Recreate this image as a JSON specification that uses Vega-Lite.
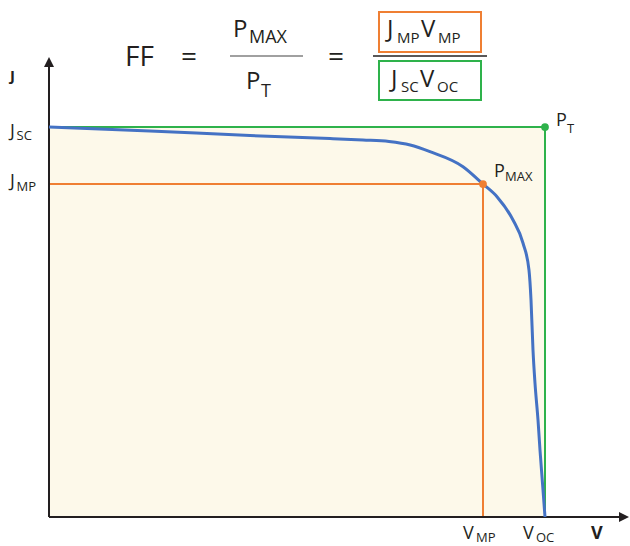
{
  "$schema": "https://vega.github.io/schema/vega-lite/v6.json",
  "width": 630,
  "height": 546,
  "autosize": "none",
  "padding": 0,
  "background": "white",
  "view": {"stroke": null},
  "config": {"text": {"font": "Open Sans", "color": "#231f20", "align": "left", "baseline": "alphabetic"}},
  "datasets": {
    "curve": [
      {"V": 0, "J": 1.0},
      {"V": 0.2036, "J": 0.9897},
      {"V": 0.4052, "J": 0.9782},
      {"V": 0.5665, "J": 0.9705},
      {"V": 0.6331, "J": 0.9667},
      {"V": 0.6855, "J": 0.9628},
      {"V": 0.7282, "J": 0.9538},
      {"V": 0.7681, "J": 0.9367},
      {"V": 0.8347, "J": 0.8982},
      {"V": 0.875, "J": 0.8538},
      {"V": 0.9032, "J": 0.8213},
      {"V": 0.9355, "J": 0.7615},
      {"V": 0.9556, "J": 0.7026},
      {"V": 0.9677, "J": 0.6333},
      {"V": 0.9718, "J": 0.5564},
      {"V": 0.9758, "J": 0.4282},
      {"V": 0.9798, "J": 0.3436},
      {"V": 0.9859, "J": 0.2487},
      {"V": 0.9899, "J": 0.1718},
      {"V": 0.996, "J": 0.0692},
      {"V": 1.0, "J": 0}
    ],
    "frame": [{"V": 0, "J": 0, "V2": 1, "J2": 1}],
    "green": [
      {"V": 0, "J": 1, "V2": 1, "J2": 1},
      {"V": 1, "J": 1, "V2": 1, "J2": 0}
    ],
    "orange": [
      {"V": 0, "J": 0.8538, "V2": 0.875, "J2": 0.8538},
      {"V": 0.875, "J": 0.8538, "V2": 0.875, "J2": 0}
    ],
    "points": [
      {"name": "PT", "V": 1, "J": 1},
      {"name": "PMAX", "V": 0.875, "J": 0.8538}
    ],
    "axes": [
      {"V": 0, "J": 0, "V2": 0, "J2": 1.1538},
      {"V": 0, "J": 0, "V2": 1.1532, "J2": 0}
    ],
    "arrowUp": [{"V": 0, "J": 1.16667}],
    "arrowRight": [{"V": 1.15927, "J": 0}],
    "boxes": [
      {"box": "num", "V": 0.66532, "V2": 0.87097, "J": 1.19231, "J2": 1.29487},
      {"box": "den", "V": 0.66532, "V2": 0.87097, "J": 1.06923, "J2": 1.16923}
    ],
    "fracGray": [{"V": 0.36492, "V2": 0.5121, "J": 1.18205, "J2": 1.18205}],
    "fracBlack": [{"V": 0.65323, "V2": 0.88306, "J": 1.18205, "J2": 1.18205}],
    "texts": [
      {"g": "ff", "t": "FF", "V": 0.15323, "J": 1.15513},
      {"g": "ff", "t": "=", "V": 0.26613, "J": 1.15513},
      {"g": "ff", "t": "=", "V": 0.5625, "J": 1.15513},
      {"g": "main", "t": "P", "V": 0.37097, "J": 1.23154},
      {"g": "main", "t": "P", "V": 0.39718, "J": 1.09744},
      {"g": "main", "t": "J", "V": 0.68145, "J": 1.23077},
      {"g": "main", "t": "V", "V": 0.75, "J": 1.23077},
      {"g": "main", "t": "J", "V": 0.68952, "J": 1.10256},
      {"g": "main", "t": "V", "V": 0.74798, "J": 1.10256},
      {"g": "sub", "t": "MAX", "V": 0.40323, "J": 1.21538},
      {"g": "sub", "t": "T", "V": 0.42742, "J": 1.07692},
      {"g": "boxsub", "t": "MP", "V": 0.70161, "J": 1.21538},
      {"g": "boxsub", "t": "MP", "V": 0.78427, "J": 1.21538},
      {"g": "boxsub", "t": "SC", "V": 0.70968, "J": 1.08974},
      {"g": "boxsub", "t": "OC", "V": 0.78226, "J": 1.08974},
      {"g": "lab", "t": "J", "V": -0.07863, "J": 0.97436},
      {"g": "lab", "t": "J", "V": -0.07863, "J": 0.84615},
      {"g": "lab", "t": "P", "V": 1.02218, "J": 1.00256},
      {"g": "lab", "t": "P", "V": 0.89718, "J": 0.87179},
      {"g": "lab", "t": "V", "V": 0.83468, "J": -0.05641},
      {"g": "lab", "t": "V", "V": 0.95565, "J": -0.05641},
      {"g": "labsub", "t": "SC", "V": -0.06552, "J": 0.96667},
      {"g": "labsub", "t": "MP", "V": -0.06552, "J": 0.8359},
      {"g": "labsub", "t": "T", "V": 1.04435, "J": 0.98462},
      {"g": "labsub", "t": "MAX", "V": 0.91935, "J": 0.86154},
      {"g": "labsub", "t": "MP", "V": 0.86089, "J": -0.0641},
      {"g": "labsub", "t": "OC", "V": 0.98185, "J": -0.0641},
      {"g": "axisJ", "t": "J", "V": -0.07863, "J": 1.11872},
      {"g": "axisV", "t": "V", "V": 1.09274, "J": -0.05641}
    ]
  },
  "encoding": {
    "x": {"field": "V", "type": "quantitative", "scale": {"domain": [-0.09879, 1.17137], "nice": false, "zero": false}, "axis": null},
    "y": {"field": "J", "type": "quantitative", "scale": {"domain": [-0.074359, 1.325641], "nice": false, "zero": false}, "axis": null}
  },
  "layer": [
    {"data": {"name": "frame"}, "mark": {"type": "rect", "color": "#fdf9ea"}, "encoding": {"x2": {"field": "V2"}, "y2": {"field": "J2"}}},
    {"data": {"name": "green"}, "mark": {"type": "rule", "color": "#2eb24b", "strokeWidth": 2}, "encoding": {"x2": {"field": "V2"}, "y2": {"field": "J2"}}},
    {"data": {"name": "orange"}, "mark": {"type": "rule", "color": "#ef7f33", "strokeWidth": 2}, "encoding": {"x2": {"field": "V2"}, "y2": {"field": "J2"}}},
    {"data": {"name": "axes"}, "mark": {"type": "rule", "color": "#231f20", "strokeWidth": 2}, "encoding": {"x2": {"field": "V2"}, "y2": {"field": "J2"}}},
    {"data": {"name": "curve"}, "mark": {"type": "line", "color": "#4472c4", "strokeWidth": 3, "interpolate": "monotone"}, "encoding": {}},
    {"data": {"name": "points"}, "mark": {"type": "point", "filled": true, "opacity": 1, "size": 60, "shape": "circle"},
      "encoding": {"color": {"field": "name", "type": "nominal", "scale": {"domain": ["PT", "PMAX"], "range": ["#2eb24b", "#ef7f33"]}, "legend": null}}},
    {"data": {"name": "arrowUp"}, "mark": {"type": "point", "filled": true, "opacity": 1, "size": 100, "shape": "M-1,1L0,-1L1,1Z", "color": "#231f20"}, "encoding": {}},
    {"data": {"name": "arrowRight"}, "mark": {"type": "point", "filled": true, "opacity": 1, "size": 100, "shape": "M-1,-1L1,0L-1,1Z", "color": "#231f20"}, "encoding": {}},
    {"data": {"name": "boxes"}, "mark": {"type": "rect", "fill": null, "strokeWidth": 2},
      "encoding": {"x2": {"field": "V2"}, "y2": {"field": "J2"}, "stroke": {"field": "box", "type": "nominal", "scale": {"domain": ["num", "den"], "range": ["#ef7f33", "#2eb24b"]}, "legend": null}}},
    {"data": {"name": "fracGray"}, "mark": {"type": "rule", "color": "#808080", "strokeWidth": 1.5}, "encoding": {"x2": {"field": "V2"}, "y2": {"field": "J2"}}},
    {"data": {"name": "fracBlack"}, "mark": {"type": "rule", "color": "#231f20", "strokeWidth": 1.5}, "encoding": {"x2": {"field": "V2"}, "y2": {"field": "J2"}}},
    {"data": {"name": "texts"}, "transform": [{"filter": "datum.g === 'ff'"}], "mark": {"type": "text", "fontSize": 28}, "encoding": {"text": {"field": "t"}}},
    {"data": {"name": "texts"}, "transform": [{"filter": "datum.g === 'main'"}], "mark": {"type": "text", "fontSize": 24}, "encoding": {"text": {"field": "t"}}},
    {"data": {"name": "texts"}, "transform": [{"filter": "datum.g === 'sub'"}], "mark": {"type": "text", "fontSize": 18}, "encoding": {"text": {"field": "t"}}},
    {"data": {"name": "texts"}, "transform": [{"filter": "datum.g === 'boxsub'"}], "mark": {"type": "text", "fontSize": 15}, "encoding": {"text": {"field": "t"}}},
    {"data": {"name": "texts"}, "transform": [{"filter": "datum.g === 'lab'"}], "mark": {"type": "text", "fontSize": 18}, "encoding": {"text": {"field": "t"}}},
    {"data": {"name": "texts"}, "transform": [{"filter": "datum.g === 'labsub'"}], "mark": {"type": "text", "fontSize": 13}, "encoding": {"text": {"field": "t"}}},
    {"data": {"name": "texts"}, "transform": [{"filter": "datum.g === 'axisJ'"}], "mark": {"type": "text", "fontSize": 15, "fontWeight": "bold"}, "encoding": {"text": {"field": "t"}}},
    {"data": {"name": "texts"}, "transform": [{"filter": "datum.g === 'axisV'"}], "mark": {"type": "text", "fontSize": 18, "fontWeight": "bold"}, "encoding": {"text": {"field": "t"}}}
  ]
}
